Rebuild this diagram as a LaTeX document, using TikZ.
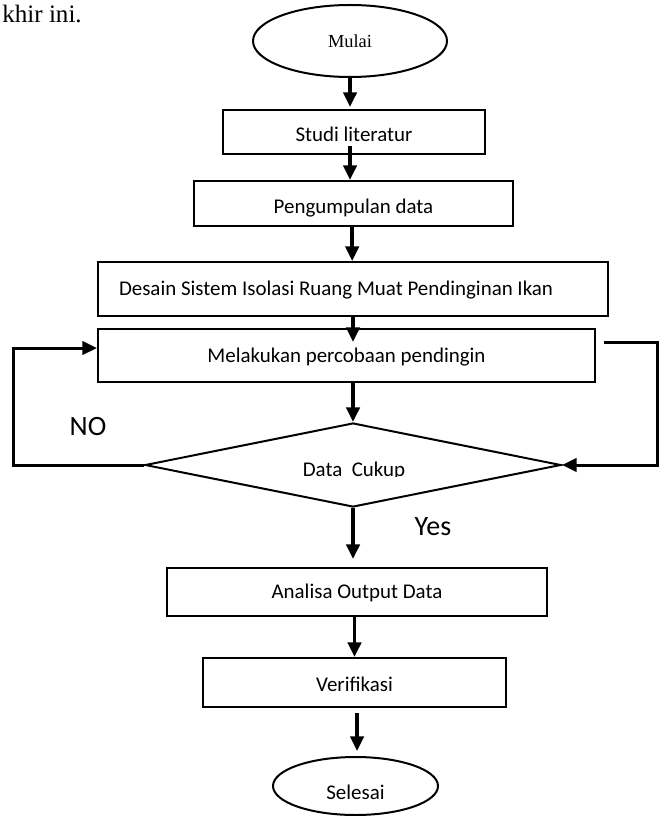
\documentclass[tikz,border=0pt]{standalone}
\usepackage{fontspec}
\setmainfont{Carlito}
\newfontfamily\serifx{Liberation Serif}
\usetikzlibrary{shapes.geometric,arrows.meta,calc}
\tikzset{
  fbase/.style={draw, line width=1.5pt, inner sep=0pt, font=\fontsize{15.7pt}{18pt}\selectfont, text height=10.1pt, text depth=0pt},
  box/.style={fbase, rectangle},
  term/.style={fbase, ellipse},
  dec/.style={fbase, diamond},
  arr/.style={line width=2.6pt, -{Triangle[length=11pt,width=10pt]}},
  loopline/.style={line width=2.25pt, -{Triangle[length=11pt,width=10pt]}},
  lbl/.style={font=\fontsize{21pt}{24pt}\selectfont, inner sep=0pt, text height=13.5pt, text depth=0pt},
}
\begin{document}
\begin{tikzpicture}[x=0.75pt,y=-0.75pt]
\useasboundingbox (0,0) rectangle (661,816);
% text fragment
\node[font=\serifx\fontsize{18.8pt}{20pt}\selectfont, anchor=base east, inner sep=0pt] (akhir) at (82,22.5) {khir ini.};
% nodes
\node[term, minimum width=145.5pt, minimum height=54pt, font=\serifx\fontsize{13.8pt}{16pt}\selectfont, text height=9.1pt] (mulai) at (350,41) {Mulai};
\node[box, minimum width=196.5pt, minimum height=33pt, text height=14.6pt] (studi) at (354,132) {Studi literatur};
\node[box, minimum width=239.25pt, minimum height=33.75pt, text height=14.6pt] (kumpul) at (353.5,203.5) {Pengumpulan data};
\node[box, minimum width=382.5pt, minimum height=40.5pt, text width=351pt, align=flush left] (desain) at (353,289) {Desain Sistem Isolasi Ruang Muat Pendinginan Ikan};
\node[box, minimum width=372.75pt, minimum height=39.75pt] (lakukan) at (346.5,355.5) {Melakukan percobaan pendingin};
\node[dec, minimum width=312pt, minimum height=63pt] (cukup) at (353,465) {};
\begin{scope}
  \clip (250,440) rectangle (460,476);
  \node[font=\fontsize{15.7pt}{18pt}\selectfont, inner sep=0pt, anchor=base] (cukuptxt) at (354,476.5) {Data~~Cukup};
\end{scope}
\node[box, minimum width=285pt, minimum height=36pt] (analisa) at (357,592) {Analisa Output Data};
\node[box, minimum width=227.25pt, minimum height=36.75pt, text height=13.1pt] (verif) at (354.5,682.5) {Verifikasi};
\node[term, minimum width=123.75pt, minimum height=43.5pt, text height=20.6pt] (selesai) at (355.5,786) {Selesai};
% labels
\node[lbl] (no) at (88,426) {NO};
\node[lbl] (yes) at (433,526) {Yes};
% loop helper coordinates
\coordinate (nl) at (13,465);
\coordinate (nr) at (657,342);
% connectors
\draw[arr] (mulai.south) -- ([yshift=1.5pt]mulai.south |- studi.north);
\draw[arr] ([xshift=-3pt,yshift=6.75pt]studi.south) -- ([xshift=-3pt]studi.south |- kumpul.north);
\draw[arr] ([xshift=-1pt]kumpul.south) -- ([xshift=-1pt]kumpul.south |- desain.north);
\draw[arr] (desain.south) -- ([yshift=-10.5pt]desain.south |- lakukan.north);
\draw[arr] (lakukan.south -| cukup.north) -- (cukup.north);
\draw[arr] (cukup.south) -- ([yshift=6pt]cukup.south |- analisa.north);
\draw[arr] (analisa.south -| verif.north) -- (verif.north);
\draw[arr] ([xshift=1.9pt,yshift=-3.75pt]verif.south) -- ([xshift=1.9pt,yshift=3.75pt]verif.south |- selesai.north);
\draw[loopline] (cukup.west) -- (cukup.west -| nl) |- ([yshift=5.6pt]lakukan.west);
\draw[loopline] ([xshift=6pt,yshift=10.1pt]lakukan.east) -| (nr |- cukup.east) -- (cukup.east);
\end{tikzpicture}
\end{document}
